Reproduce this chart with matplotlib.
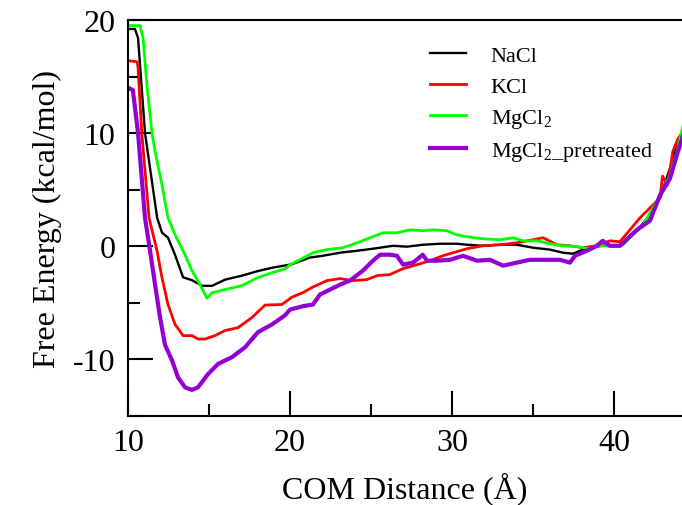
"""Free energy profiles vs COM distance for four salt conditions."""
import matplotlib
matplotlib.use("Agg")
import matplotlib.pyplot as plt

plt.rcParams["font.family"] = ["Liberation Serif", "DejaVu Serif"]
plt.rcParams["mathtext.fontset"] = "custom"
plt.rcParams["mathtext.rm"] = "Liberation Serif"
plt.rcParams["mathtext.it"] = "Liberation Serif:italic"

# values
nacl_x = [10.0, 10.43, 10.62, 11.05, 11.8, 12.1, 12.47, 12.9, 13.4, 13.95, 14.57,
          15.19, 16.0, 17.04, 18.0, 18.9, 20.1, 21.23, 22.04, 23.09, 24.14,
          25.12, 26.36, 27.22, 28.2, 29.26, 30.3, 30.93, 31.9, 32.96, 34.0,
          35.0, 36.05, 36.85, 37.47, 37.9, 38.5, 39.3, 40.2, 40.56, 41.42,
          42.22, 42.84, 43.46, 43.89, 44.3]
nacl_y = [19.2, 19.2, 18.4, 10.0, 2.5, 1.2, 0.75, -0.75, -2.75, -3.0, -3.5,
          -3.5, -2.95, -2.6, -2.2, -1.9, -1.6, -1.0, -0.84, -0.57, -0.4,
          -0.22, 0.04, -0.04, 0.13, 0.22, 0.22, 0.13, 0.04, 0.13, 0.13,
          -0.13, -0.3, -0.57, -0.66, -0.4, -0.13, 0.04, 0.0, 0.3, 1.37,
          2.78, 4.27, 6.9, 8.9, 10.3]

kcl_x = [10.0, 10.56, 10.62, 10.85, 11.3, 11.79, 12.1, 12.47, 12.9, 13.4, 13.95,
         14.32, 14.75, 15.37, 15.99, 16.79, 17.65, 18.46, 19.5, 20.12, 20.8,
         21.42, 22.28, 23.09, 23.89, 24.75, 25.37, 26.17, 26.98, 27.84, 28.64,
         29.44, 30.49, 30.93, 31.9, 32.96, 34.0, 35.0, 35.62, 36.48, 37.28,
         38.09, 38.95, 39.75, 40.37, 41.6, 42.84, 43.0, 43.3, 43.64, 43.95,
         44.3]
kcl_y = [16.4, 16.3, 15.8, 10.0, 2.5, -0.4, -2.8, -5.15, -6.9, -7.9, -7.9,
         -8.2, -8.2, -7.9, -7.45, -7.2, -6.3, -5.2, -5.15, -4.5, -4.1,
         -3.6, -3.04, -2.86, -3.04, -2.95, -2.6, -2.5, -1.98, -1.63, -1.28,
         -0.84, -0.4, -0.22, 0.04, 0.13, 0.3, 0.57, 0.75, 0.13, 0.04,
         -0.13, 0.04, 0.48, 0.4, 2.5, 4.27, 6.2, 5.4, 8.4, 9.5,
         10.2]

mgcl2_x = [10.0, 10.74, 10.93, 11.17, 11.48, 11.67, 12.1, 12.47, 12.99, 13.52,
           13.95, 14.44, 14.88, 15.19, 15.99, 17.04, 18.0, 18.9, 19.7, 20.0,
           20.6, 21.42, 22.28, 23.27, 24.14, 24.94, 25.74, 26.6, 27.4, 28.2,
           28.83, 29.69, 30.3, 30.93, 31.9, 32.96, 33.77, 34.38, 35.25, 36.05,
           36.85, 37.72, 38.52, 39.14, 40.2, 40.56, 41.8, 42.65, 43.46, 43.89,
           44.3]
mgcl2_y = [19.5, 19.5, 18.4, 14.2, 10.0, 8.4, 5.4, 2.5, 0.75, -0.75,
           -2.16, -3.4, -4.6, -4.1, -3.83, -3.48, -2.78, -2.33, -2.0, -1.63,
           -1.2, -0.57, -0.3, -0.13, 0.3, 0.75, 1.19, 1.19, 1.45, 1.37,
           1.45, 1.37, 1.0, 0.84, 0.66, 0.57, 0.75, 0.48, 0.48, 0.22,
           0.04, -0.04, -0.22, 0.04, 0.04, 0.13, 1.9, 4.0, 6.3, 8.4,
           10.9]

pre_x = [10.0, 10.3, 10.62, 11.05, 11.36, 11.67, 11.98, 12.28, 12.72, 13.09,
         13.52, 13.95, 14.32, 14.94, 15.56, 16.42, 17.22, 18.02, 18.9, 19.7,
         20.0, 20.8, 21.42, 21.85, 22.47, 23.09, 23.7, 24.5, 25.12, 25.56,
         26.17, 26.6, 26.98, 27.6, 28.2, 28.46, 29.07, 29.88, 30.68, 31.54,
         32.35, 33.15, 34.0, 34.8, 35.62, 36.67, 37.28, 37.6, 38.33, 38.95,
         39.3, 39.75, 40.37, 41.42, 42.22, 42.84, 43.46, 43.89, 44.3]
pre_y = [14.0, 13.8, 10.0, 2.5, -0.4, -3.4, -6.3, -8.7, -10.1, -11.6,
         -12.47, -12.7, -12.47, -11.3, -10.4, -9.8, -8.94, -7.6, -6.9, -6.1,
         -5.6, -5.3, -5.15, -4.27, -3.83, -3.4, -3.04, -2.16, -1.28, -0.75,
         -0.75, -0.84, -1.63, -1.45, -0.75, -1.28, -1.28, -1.2, -0.84, -1.28,
         -1.2, -1.72, -1.45, -1.2, -1.2, -1.2, -1.45, -0.84, -0.4, 0.04,
         0.48, 0.04, 0.04, 1.45, 2.25, 4.5, 6.0, 8.1, 9.9]

fig = plt.figure(figsize=(6.82, 5.06), dpi=100)
ax = fig.add_axes([0.1877, 0.176, 0.8123, 0.7826])

ax.plot(nacl_x, nacl_y, color="black", lw=1.7, label="NaCl")
ax.plot(kcl_x, kcl_y, color="#ff0000", lw=2.0, label="KCl")
ax.plot(mgcl2_x, mgcl2_y, color="#00ff00", lw=2.0, label=r"MgCl$_2$")
ax.plot(pre_x, pre_y, color="#9400d3", lw=3.0, label=r"MgCl$_2$_pretreated")

ax.set_xlim(10, 44.2)
ax.set_ylim(-15, 20)
ax.set_xticks([10, 20, 30, 40])
ax.set_xticks([15, 25, 35], minor=True)
ax.set_yticks([-10, 0, 10, 20])
ax.set_yticks([-15, -5, 5, 15], minor=True)
ax.set_yticklabels(["-10", "0", "10", "20"])

for s in ["left", "bottom", "top"]:
    ax.spines[s].set_linewidth(1.5)
ax.spines["right"].set_visible(False)
ax.tick_params(which="both", direction="in", top=False, right=False,
               width=1.5, labelsize=23, pad=9)
ax.tick_params(which="major", length=18)
ax.tick_params(which="minor", length=8.5)

ax.set_xlabel("COM Distance (Å)", fontsize=23, labelpad=10)
ax.set_ylabel("Free Energy (kcal/mol)", fontsize=23, labelpad=8)

ax.legend(loc="upper left", bbox_to_anchor=(0.545, 0.935), frameon=False,
          fontsize=16, handlelength=1.63, handletextpad=1.1,
          labelspacing=0.45, borderpad=0, borderaxespad=0)

fig.savefig("out.png", dpi=100)
